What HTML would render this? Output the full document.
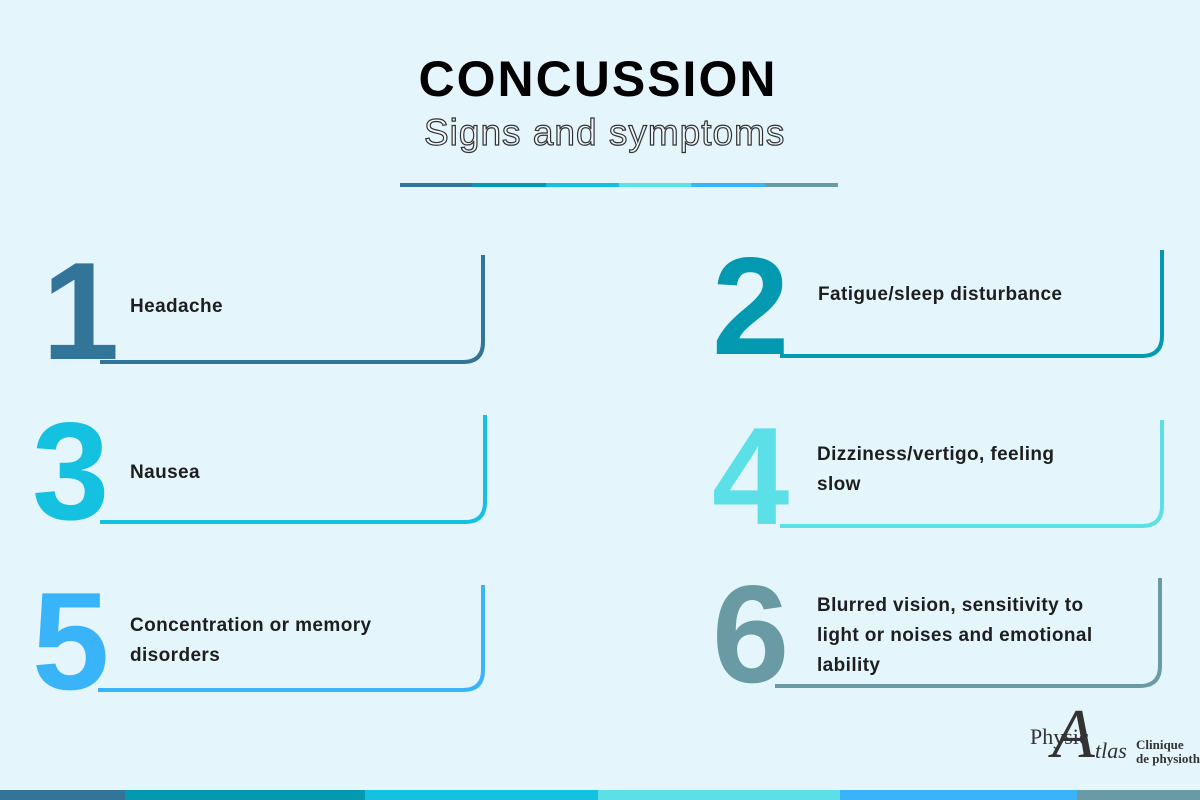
<!DOCTYPE html>
<html><head><style>
body{margin:0;width:1200px;height:800px;background:#e4f5fc;position:relative;overflow:hidden;font-family:"Liberation Sans",sans-serif}
.t{position:absolute;font-weight:bold;font-size:19px;color:#1e1e1e;line-height:30px;letter-spacing:0.4px}
.d{position:absolute;font-weight:bold;font-size:139px;line-height:1;letter-spacing:-4px}
</style></head><body>
<div style="position:absolute;left:0;width:1196px;top:50px;text-align:center;font-weight:bold;font-size:50px;color:#000;letter-spacing:2px">CONCUSSION</div>
<div style="position:absolute;left:424px;top:112px;font-size:37px;letter-spacing:1px;color:#eef7fb;-webkit-text-stroke:1.2px #333">Signs and symptoms</div>
<div style="position:absolute;left:400px;top:183px;height:4px;width:438px;background:linear-gradient(90deg,#327599 0 16.6%,#0399b1 16.6% 33.3%,#14c1e0 33.3% 50%,#5ce0e8 50% 66.6%,#3ab4f8 66.6% 83.3%,#6a9aa3 83.3%)"></div>
<svg width="1200" height="800" style="position:absolute;left:0;top:0" fill="none" stroke-width="4">
<path d="M100 362 H463 Q483 362 483 342 V255" stroke="#327599"/>
<path d="M780 356 H1142 Q1162 356 1162 336 V250" stroke="#0399b1"/>
<path d="M100 522 H465 Q485 522 485 502 V415" stroke="#14c1e0"/>
<path d="M780 526 H1142 Q1162 526 1162 506 V420" stroke="#5ce0e8"/>
<path d="M98 690 H463 Q483 690 483 670 V585" stroke="#3ab4f8"/>
<path d="M775 686 H1140 Q1160 686 1160 666 V578" stroke="#6a9aa3"/>
</svg>
<div class="d" style="left:42px;top:242px;color:#327599">1</div>
<div class="d" style="left:712px;top:237px;color:#0399b1">2</div>
<div class="d" style="left:32px;top:402px;color:#14c1e0">3</div>
<div class="d" style="left:712px;top:407px;color:#5ce0e8">4</div>
<div class="d" style="left:32px;top:572px;color:#3ab4f8">5</div>
<div class="d" style="left:712px;top:565px;color:#6a9aa3">6</div>
<div class="t" style="left:130px;top:292px">Headache</div>
<div class="t" style="left:818px;top:280px">Fatigue/sleep disturbance</div>
<div class="t" style="left:130px;top:458px">Nausea</div>
<div class="t" style="left:817px;top:440px">Dizziness/vertigo, feeling<br>slow</div>
<div class="t" style="left:130px;top:611px">Concentration or memory<br>disorders</div>
<div class="t" style="left:817px;top:591px">Blurred vision, sensitivity to<br>light or noises and emotional<br>lability</div>
<div style="position:absolute;left:1030px;top:724px;font-family:'Liberation Serif',serif;font-size:22px;color:#333">Physic</div>
<div style="position:absolute;left:1052px;top:700px;font-family:'Liberation Serif',serif;font-style:italic;font-size:70px;color:#333;line-height:1">A</div>
<div style="position:absolute;left:1095px;top:738px;font-family:'Liberation Serif',serif;font-style:italic;font-size:22px;color:#333">tlas</div>
<div style="position:absolute;left:1136px;top:738px;font-family:'Liberation Serif',serif;font-weight:bold;font-size:13px;color:#333;line-height:14px;white-space:nowrap">Clinique<br>de physiothe</div>
<div style="position:absolute;left:0;top:790px;width:1200px;height:10px;background:linear-gradient(90deg,#327599 0 125px,#0399b1 125px 365px,#14c1e0 365px 598px,#5ce0e8 598px 840px,#3ab4f8 840px 1077px,#6a9aa3 1077px)"></div>
</body></html>
